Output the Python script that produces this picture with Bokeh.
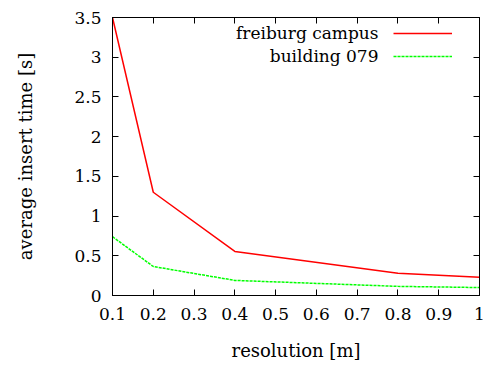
from bokeh.plotting import figure
from bokeh.models import LinearAxis, Range1d, Legend, LegendItem, Label, FixedTicker
from bokeh.embed import file_html
from bokeh.resources import INLINE

resolution = [0.1, 0.2, 0.4, 0.8, 1.0]
campus = [3.5, 1.30, 0.555, 0.28, 0.23]
building = [0.74, 0.365, 0.19, 0.115, 0.10]

x_ticks = [0.1, 0.2, 0.3, 0.4, 0.5, 0.6, 0.7, 0.8, 0.9, 1.0]
x_labels = ["0.1", "0.2", "0.3", "0.4", "0.5", "0.6", "0.7", "0.8", "0.9", "1"]
y_ticks = [0, 0.5, 1.0, 1.5, 2.0, 2.5, 3.0, 3.5]
y_labels = ["0", "0.5", "1", "1.5", "2", "2.5", "3", "3.5"]

FONT = "DejaVu Serif"
FS_TICK = "17px"
FS = "18px"
FS_LEG = "17px"

p = figure(width=488, height=365, output_backend="svg", toolbar_location=None,
           x_range=Range1d(0.1, 1.0), y_range=Range1d(0, 3.5),
           min_border_left=112, min_border_right=9, min_border_top=17, min_border_bottom=70)
p.xgrid.visible = False
p.ygrid.visible = False
p.outline_line_color = "black"
p.outline_line_width = 1
p.background_fill_color = "white"
p.border_fill_color = "white"

r1 = p.line(resolution, campus, line_color="#ff0000", line_width=1.5)
r2 = p.line(resolution, building, line_color="#00ff00", line_width=1.5, line_dash="3 1")

def style(ax, ticks, labels, show):
    ax.ticker = FixedTicker(ticks=ticks)
    ax.major_label_overrides = {t: (l if show else "") for t, l in zip(ticks, labels)}
    ax.major_tick_in = 6
    ax.major_tick_out = 0
    ax.minor_tick_in = 0
    ax.minor_tick_out = 0
    ax.axis_line_color = "black"
    ax.major_tick_line_color = "black"
    ax.major_label_text_font = FONT
    ax.major_label_text_font_size = FS_TICK
    ax.major_label_text_color = "black"
    ax.axis_label_text_font = FONT
    ax.axis_label_text_font_size = FS
    ax.axis_label_text_font_style = "normal"
    ax.axis_label_text_color = "black"

xa = p.xaxis[0]
ya = p.yaxis[0]
style(xa, x_ticks, x_labels, True)
style(ya, y_ticks, y_labels, True)
xa.axis_label = "resolution [m]"
ya.axis_label = "average insert time [s]"
xa.major_label_standoff = 12
ya.major_label_standoff = 11
xa.axis_label_standoff = 17
ya.axis_label_standoff = 35

top = LinearAxis()
right = LinearAxis()
style(top, x_ticks, x_labels, False)
style(right, y_ticks, y_labels, False)
top.major_label_standoff = 0
right.major_label_standoff = 0
p.add_layout(top, "above")
p.add_layout(right, "right")

legend = Legend(items=[LegendItem(label=" ", renderers=[r1]),
                       LegendItem(label=" ", renderers=[r2])],
                location=(281, 229), padding=0, margin=0, spacing=3,
                glyph_width=59, glyph_height=20, label_height=20, label_standoff=0,
                border_line_alpha=0, background_fill_alpha=0,
                label_text_font=FONT, label_text_font_size=FS_LEG)
p.add_layout(legend)

names = ["freiburg campus", "building 079"]
for i, n in enumerate(names):
    p.add_layout(Label(x=266, y=263 - 23 * i, x_units="screen", y_units="screen", text=n,
                       text_align="right", text_baseline="middle",
                       text_font=FONT, text_font_size=FS_LEG, text_color="black"))

open("out.html", "w").write(file_html(p, INLINE))
